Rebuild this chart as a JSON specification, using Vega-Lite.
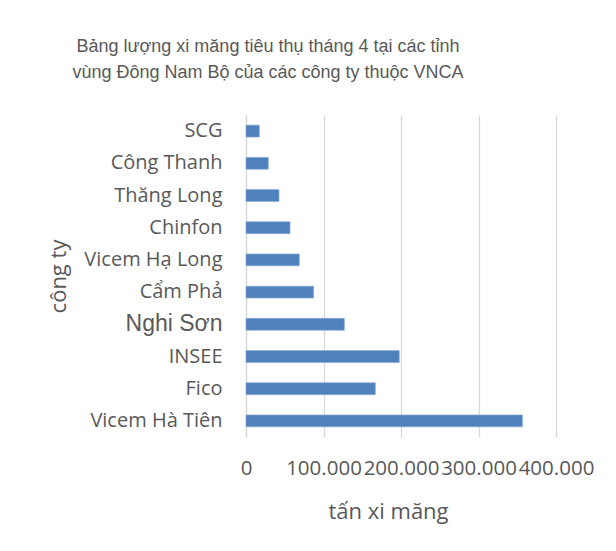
{
  "$schema": "https://vega.github.io/schema/vega-lite/v6.json",
  "width": 310,
  "height": 322,
  "autosize": "none",
  "padding": {"left": 246, "top": 115, "right": 60, "bottom": 114},
  "background": "white",
  "title": {
    "text": ["Bảng lượng xi măng tiêu thụ tháng 4 tại các tỉnh", "vùng Đông Nam Bộ của các công ty thuộc VNCA"],
    "font": "Liberation Sans",
    "fontSize": 18,
    "fontWeight": "normal",
    "color": "#595959",
    "lineHeight": 26,
    "anchor": "middle",
    "frame": "group",
    "dx": -133,
    "offset": 33
  },
  "data": {
    "values": [
      {"company": "SCG", "value": 17200},
      {"company": "Công Thanh", "value": 28800},
      {"company": "Thăng Long", "value": 42600},
      {"company": "Chinfon", "value": 56800},
      {"company": "Vicem Hạ Long", "value": 68800},
      {"company": "Cẩm Phả ", "value": 87300},
      {"company": "Nghi Sơn", "value": 126900},
      {"company": "INSEE", "value": 197800},
      {"company": "Fico", "value": 166900},
      {"company": "Vicem Hà Tiên", "value": 356600}
    ]
  },
  "mark": {"type": "bar", "color": "#4f81bd", "stroke": "#8fadd8", "strokeWidth": 0.7},
  "encoding": {
    "y": {
      "field": "company",
      "type": "nominal",
      "sort": null,
      "scale": {"paddingInner": 0.63, "paddingOuter": 0.315},
      "axis": {
        "title": "công ty",
        "titleFont": "Open Sans",
        "titleFontSize": 22,
        "titleFontWeight": "normal",
        "titleColor": "#595959",
        "titleAngle": -90,
        "titleX": -188,
        "titleY": 161,
        "titleAlign": "center",
        "titleBaseline": "middle",
        "ticks": false,
        "grid": false,
        "domain": true,
        "domainColor": "#d9d9d9",
        "domainWidth": 1.3,
        "labelPadding": 24,
        "labelColor": "#595959",
        "labelFont": {"condition": {"test": "datum.value == 'Nghi Sơn'", "value": "Liberation Sans"}, "value": "Open Sans"},
        "labelFontSize": {"condition": {"test": "datum.value == 'Nghi Sơn'", "value": 23}, "value": 20},
        "labelLimit": 300
      }
    },
    "x": {
      "field": "value",
      "type": "quantitative",
      "scale": {"domain": [0, 400000], "nice": false},
      "axis": {
        "title": "tấn xi măng",
        "titleFont": "Open Sans",
        "titleFontSize": 22,
        "titleFontWeight": "normal",
        "titleColor": "#595959",
        "titleX": 142,
        "titleY": 74,
        "titleAlign": "center",
        "titleBaseline": "middle",
        "values": [0, 100000, 200000, 300000, 400000],
        "labelExpr": "replace(format(datum.value, ','), ',', '.')",
        "labelOverlap": false,
        "labelBound": false,
        "labelFlush": false,
        "labelFont": "Open Sans",
        "labelFontSize": 20.5,
        "labelColor": "#595959",
        "labelPadding": 31,
        "labelBaseline": "middle",
        "ticks": false,
        "domain": false,
        "grid": true,
        "gridColor": "#d9d9d9",
        "gridWidth": 1.3
      }
    }
  },
  "config": {
    "view": {"stroke": null}
  }
}
